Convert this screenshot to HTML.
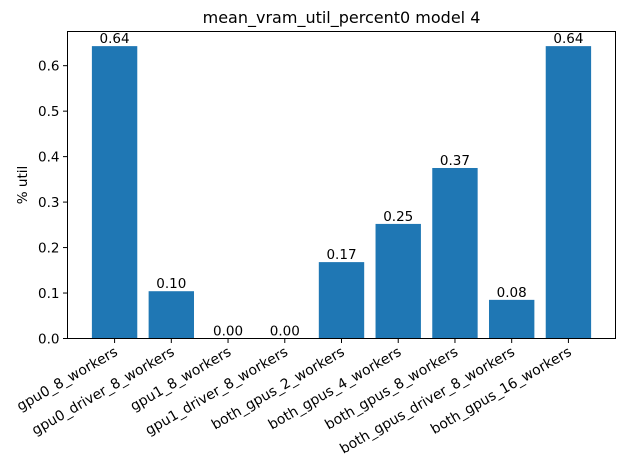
<!DOCTYPE html>
<html><head><meta charset="utf-8"><style>
html,body{margin:0;padding:0;background:#fff;}
svg{display:block;font-family:"DejaVu Sans","Liberation Sans",sans-serif;}
</style></head><body>
<svg id="chart" width="625" height="469" viewBox="0 0 625 469">
<text x="341.5" y="23" text-anchor="middle" font-size="16" fill="#000">mean_vram_util_percent0 model 4</text>
<text transform="translate(27,185) rotate(-90)" text-anchor="middle" font-size="13.5" fill="#000">% util</text>
<g id="bars"></g><g id="yticks"></g><g id="xticks"></g>
<rect x="67.5" y="31.5" width="548" height="307" fill="none" stroke="#000" stroke-width="1"/>
</svg>
<script>
const categories = ["gpu0_8_workers","gpu0_driver_8_workers","gpu1_8_workers","gpu1_driver_8_workers","both_gpus_2_workers","both_gpus_4_workers","both_gpus_8_workers","both_gpus_driver_8_workers","both_gpus_16_workers"];
const values = [0.643,0.104,0,0,0.168,0.252,0.375,0.085,0.643];
const labels = ["0.64","0.10","0.00","0.00","0.17","0.25","0.37","0.08","0.64"];
const yTicks = [0,0.1,0.2,0.3,0.4,0.5,0.6];
const yTickLabels = ["0.0","0.1","0.2","0.3","0.4","0.5","0.6"];
(function(){
const NS="http://www.w3.org/2000/svg";
const pL=67.5,pR=615.5,pT=31.5,pB=338.5;
const xmin=-0.83,xmax=categories.length-1+0.83;
const ymax=(pB-pT)/454.7;
function xs(i){return pL+(i-xmin)/(xmax-xmin)*(pR-pL);}
function ys(v){return pB-v/ymax*(pB-pT);}
const step=xs(1)-xs(0), bw=step*0.8;
function mk(tag,attrs,parent){const e=document.createElementNS(NS,tag);for(const k in attrs)e.setAttribute(k,attrs[k]);parent.appendChild(e);return e;}
const gb=document.getElementById('bars'),gy=document.getElementById('yticks'),gx=document.getElementById('xticks');
values.forEach((v,i)=>{
  const r=mk('rect',{x:xs(i)-bw/2,y:ys(v),width:bw,height:pB-ys(v),fill:'#1f77b4'},gb);
  
  
  const t=mk('text',{x:xs(i),y:ys(v)-3,'text-anchor':'middle','font-size':'13.5',fill:'#000'},gb);
  t.textContent=labels[i];
  
  
  const tk=mk('line',{x1:xs(i),x2:xs(i),y1:pB,y2:pB+4.5,stroke:'#000'},gx);
  
  
  const xt=mk('text',{x:0,y:0,'text-anchor':'end','font-size':'14',fill:'#000',transform:'translate('+(xs(i)+4)+','+(pB+16)+') rotate(-30)'},gx);
  xt.textContent=categories[i];
  
  
});
yTicks.forEach((v,i)=>{
  const tk=mk('line',{x1:pL-4.5,x2:pL,y1:ys(v),y2:ys(v),stroke:'#000'},gy);
  
  
  const t=mk('text',{x:pL-8,y:ys(v)+5,'text-anchor':'end','font-size':'13.5',fill:'#000'},gy);
  t.textContent=yTickLabels[i];
  
  
});
})();
</script>
</body></html>
